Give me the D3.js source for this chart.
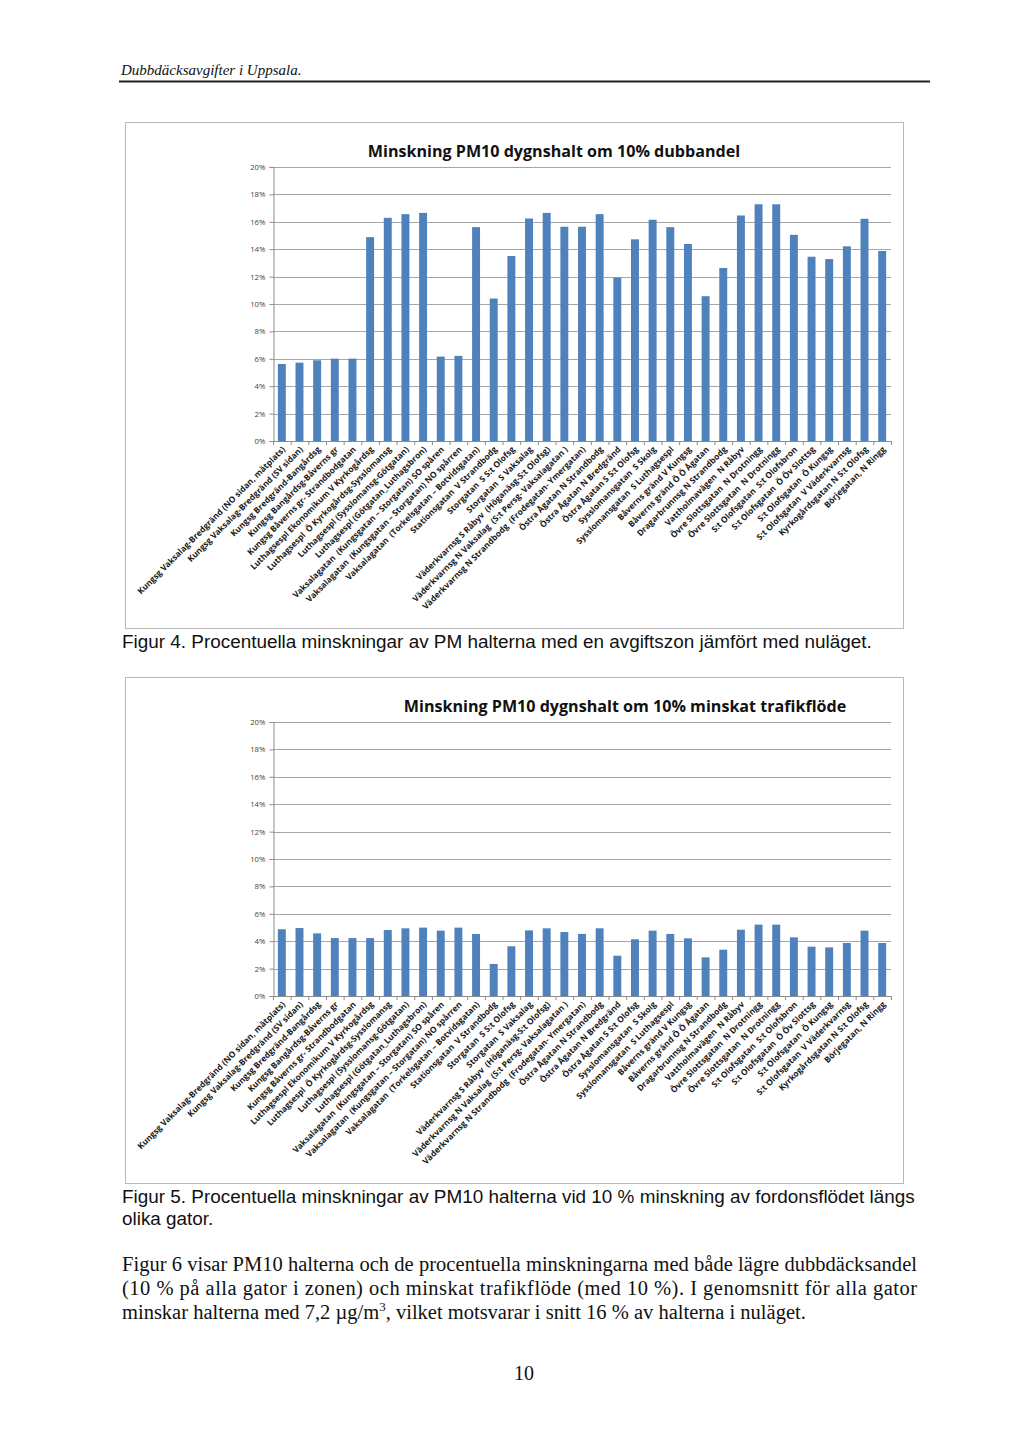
<!DOCTYPE html>
<html><head><meta charset="utf-8">
<script src="https://cdn.jsdelivr.net/npm/d3@7"></script>
<style>body{margin:0;background:#fff}svg{display:block}</style>
</head><body>
<script>
const categories = [
  "Kungsg Vaksalag-Bredgränd (NO sidan, mätplats)",
  "Kungsg Vaksalag-Bredgränd (SV sidan)",
  "Kungsg Bredgränd-Bangårdsg",
  "Kungsg Bangårdsg-Båverns gr",
  "Kungsg Båverns gr- Strandbodgatan",
  "Luthagsespl Ekonomikum V Kyrkogårdsg",
  "Luthagsespl  Ö Kyrkogårdsg-Sysslomansg",
  "Luthagsespl (Sysslomansg-Götgatan)",
  "Luthagsespl (Götgatan_Luthagsbron)",
  "Vaksalagatan  (Kungsgatan – Storgatan) SO spåren",
  "Vaksalagatan  (Kungsgatan – Storgatan) NO spårren",
  "Vaksalagatan  (Torkelsgatan – Botvidsgatan)",
  "Stationsgatan  V Strandbodg",
  "Storgatan  S S:t Olofsg",
  "Storgatan  S Vaksalag",
  "Väderkvarnsg S Råbyv  (Höganäsg-S:t Olofsg)",
  "Väderkvarnsg N Vaksalag  (S:t Persg- Vaksalagatan )",
  "Väderkvarnsg N Strandbodg  (Frodegatan- Ymergatan)",
  "Östra Ågatan N Strandbodg",
  "Östra Ågatan N Bredgränd",
  "Östra Ågatan S S:t Olofsg",
  "Sysslomansgatan  S Skolg",
  "Sysslomansgatan  S Luthagsespl",
  "Båverns gränd V Kungsg",
  "Båverns gränd Ö Ö Ågatan",
  "Dragarbrunnsg N Strandbodg",
  "Vattholmavägen  N Råbyv",
  "Övre Slottsgatan  N Drotningg",
  "Övre Slottsgatan  N Drotningg",
  "S:t Olofsgatan  S:t Olofsbron",
  "S:t Olofsgatan  Ö Öv Slottsg",
  "S:t Olofsgatan  Ö Kungsg",
  "S:t Olofsgatan  V Väderkvarnsg",
  "Kyrkogårdsgatan N S:t Olofsg",
  "Börjegatan, N Ringg"
];
// Figur 4: minskning om 10% dubbandel (fraction)
const fig4Values = [
  0.0562, 0.0572, 0.0589, 0.0601, 0.0601, 0.1488, 0.1629, 0.1656, 0.1665,
  0.0616, 0.0621, 0.1561, 0.1040, 0.1350, 0.1624, 0.1665,
  0.1564, 0.1564, 0.1656, 0.1193, 0.1472, 0.1615, 0.1561, 0.1438, 0.1057,
  0.1263, 0.1646, 0.1728, 0.1728, 0.1505, 0.1345, 0.1328, 0.1421, 0.1622, 0.1387
];
// Figur 5: minskning om 10% minskat trafikflöde (fraction)
const fig5Values = [
  0.0487, 0.0496, 0.0457, 0.0423, 0.0423, 0.0423, 0.0482, 0.0494, 0.0499,
  0.0477, 0.0499, 0.0453, 0.0234, 0.0363, 0.0479, 0.0494,
  0.0467, 0.0453, 0.0494, 0.0294, 0.0414, 0.0477, 0.0453, 0.0421, 0.0282,
  0.0338, 0.0484, 0.0521, 0.0521, 0.0428, 0.0360, 0.0355, 0.0387, 0.0477, 0.0387
];
const yTicks = [0, 0.02, 0.04, 0.06, 0.08, 0.10, 0.12, 0.14, 0.16, 0.18, 0.20];
const chartTitles = [
  "Minskning PM10 dygnshalt om 10% dubbandel",
  "Minskning PM10 dygnshalt om 10% minskat trafikflöde"
];

const W = 1024, H = 1447;
const svg = d3.select("body").append("svg").attr("width", W).attr("height", H);
svg.append("rect").attr("width", W).attr("height", H).attr("fill", "#fff");

// page header
svg.append("text").attr("x", 121).attr("y", 75)
  .attr("font-family", "Liberation Serif, serif").attr("font-style", "italic")
  .attr("font-size", 15).attr("fill", "#111").text("Dubbdäcksavgifter i Uppsala.");
svg.append("line").attr("x1", 119).attr("x2", 930).attr("y1", 81.5).attr("y2", 81.5)
  .attr("stroke", "#222").attr("stroke-width", 2);

const idx = d3.range(categories.length);

function drawChart(top, values, title, titleX) {
  const g = svg.append("g");
  g.append("rect").attr("x", 125.5).attr("y", top + 0.5).attr("width", 778).attr("height", 506)
    .attr("fill", "#fff").attr("stroke", "#b8b8b8");
  const plotTop = top + 45, plotBottom = top + 319;
  const x = d3.scaleBand().domain(idx).range([273, 891]).paddingInner(0.55).paddingOuter(0.275);
  const y = d3.scaleLinear().domain([0, 0.20]).range([plotBottom, plotTop]);

  // gridlines
  g.append("g").selectAll("line").data(yTicks.filter(t => t > 0)).join("line")
    .attr("x1", 273).attr("x2", 891)
    .attr("y1", d => Math.round(y(d)) + 0.5).attr("y2", d => Math.round(y(d)) + 0.5)
    .attr("stroke", "#a6a6a6").attr("stroke-width", 1);

  // y axis
  const ya = g.append("g").attr("transform", "translate(273.5,0)")
    .call(d3.axisLeft(y).tickValues(yTicks).tickFormat(d3.format(".0%")).tickSize(4).tickPadding(4));
  ya.select(".domain").attr("stroke", "#8c8c8c");
  ya.selectAll(".tick line").attr("stroke", "#8c8c8c");
  ya.selectAll(".tick text").attr("font-family", "Open Sans, sans-serif").attr("font-size", 7.8).attr("fill", "#444");

  // bars
  g.append("g").selectAll("rect").data(values).join("rect")
    .attr("x", (d, i) => x(i))
    .attr("width", x.bandwidth())
    .attr("y", d => y(d))
    .attr("height", d => plotBottom - y(d))
    .attr("fill", "#4f81bd");

  // x axis line and boundary ticks
  g.append("line").attr("x1", 273).attr("x2", 891).attr("y1", plotBottom + 0.5).attr("y2", plotBottom + 0.5)
    .attr("stroke", "#8c8c8c");
  const step = x.step();
  g.append("g").selectAll("line").data(d3.range(categories.length + 1)).join("line")
    .attr("x1", i => 273 + i * step + 0.5).attr("x2", i => 273 + i * step + 0.5)
    .attr("y1", plotBottom).attr("y2", plotBottom + 4).attr("stroke", "#8c8c8c");

  // category labels
  g.append("g").selectAll("text").data(categories).join("text")
    .attr("transform", (d, i) => `translate(${x(i) + x.bandwidth() / 2 + 4},${plotBottom + 9}) rotate(-45)`)
    .attr("text-anchor", "end")
    .attr("font-family", "Open Sans, sans-serif").attr("font-weight", "bold")
    .attr("font-size", 8.4).attr("fill", "#1a1a1a")
    .attr("xml:space", "preserve")
    .text(d => d);

  // title
  g.append("text").attr("x", titleX).attr("y", top + 35).attr("text-anchor", "middle")
    .attr("font-family", "Open Sans, sans-serif").attr("font-weight", "bold")
    .attr("font-size", 16.1).attr("fill", "#111").text(title);
}

drawChart(122, fig4Values, chartTitles[0], 554);
drawChart(677, fig5Values, chartTitles[1], 625);

// captions
const cap = (t, yy) => svg.append("text").attr("x", 122).attr("y", yy)
  .attr("font-family", "Liberation Sans, Arial, sans-serif").attr("font-size", 18.9).attr("fill", "#111").text(t);
cap("Figur 4. Procentuella minskningar av PM halterna med en avgiftszon jämfört med nuläget.", 648);
cap("Figur 5. Procentuella minskningar av PM10 halterna vid 10 % minskning av fordonsflödet längs", 1203);
cap("olika gator.", 1225);

// body paragraph
const para = (yy, justify) => {
  const t = svg.append("text").attr("x", 122).attr("y", yy)
    .attr("font-family", "Liberation Serif, serif").attr("font-size", 20.5).attr("fill", "#111");
  if (justify) t.attr("textLength", 795).attr("lengthAdjust", "spacing");
  return t;
};
para(1271, true).text("Figur 6 visar PM10 halterna och de procentuella minskningarna med både lägre dubbdäcksandel");
para(1295, true).text("(10 % på alla gator i zonen) och minskat trafikflöde (med 10 %). I genomsnitt för alla gator");
const l3 = para(1319, false);
l3.append("tspan").text("minskar halterna med 7,2 µg/m");
l3.append("tspan").attr("dy", -8).attr("font-size", 13).text("3");
l3.append("tspan").attr("dy", 8).text(", vilket motsvarar i snitt 16 % av halterna i nuläget.");

svg.append("text").attr("x", 524).attr("y", 1380).attr("text-anchor", "middle")
  .attr("font-family", "Liberation Serif, serif").attr("font-size", 20).attr("fill", "#111").text("10");
</script>
</body></html>
